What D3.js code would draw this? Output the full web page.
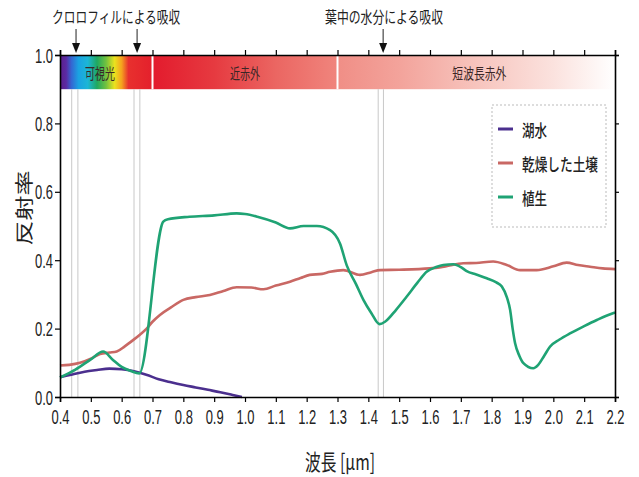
<!DOCTYPE html>
<html><head><meta charset="utf-8">
<script src="https://cdn.jsdelivr.net/npm/d3@7"></script>
<style>body{margin:0;background:#fff}</style>
</head><body>
<svg id="c" width="639" height="477"></svg>
<script>
// ---------- data ----------
const xTicks = [0.4,0.5,0.6,0.7,0.8,0.9,1.0,1.1,1.2,1.3,1.4,1.5,1.6,1.7,1.8,1.9,2.0,2.1,2.2];
const yTicks = [0.0,0.2,0.4,0.6,0.8,1.0];
const seriesNames = ["湖水","乾燥した土壌","植生"];
const seriesColors = ["#4b2f8e","#c96864","#1fa374"];

const waterWl  = [0.40,0.44,0.48,0.52,0.56,0.60,0.64,0.68,0.72,0.76,0.80,0.84,0.88,0.92,0.96,0.99];
const waterVal = [0.058,0.066,0.074,0.079,0.083,0.081,0.075,0.065,0.052,0.043,0.035,0.028,0.021,0.014,0.006,0.0];

const soilWl  = [0.40,0.43,0.465,0.50,0.53,0.56,0.584,0.61,0.638,0.66,0.681,0.70,0.724,0.76,0.80,0.84,0.886,0.93,0.973,1.02,1.06,1.10,1.146,1.18,1.21,1.25,1.276,1.319,1.373,1.41,1.438,1.50,1.60,1.65,1.708,1.75,1.805,1.849,1.892,1.946,2.00,2.043,2.08,2.119,2.16,2.20];
const soilVal = [0.092,0.094,0.100,0.112,0.126,0.130,0.133,0.148,0.167,0.183,0.200,0.220,0.240,0.262,0.284,0.292,0.298,0.310,0.321,0.320,0.315,0.326,0.337,0.348,0.357,0.360,0.366,0.371,0.357,0.365,0.371,0.372,0.376,0.382,0.391,0.392,0.396,0.386,0.371,0.371,0.382,0.393,0.386,0.381,0.376,0.374];

const vegWl  = [0.40,0.45,0.50,0.54,0.57,0.60,0.63,0.657,0.735,0.75,0.82,0.90,0.973,1.00,1.04,1.10,1.146,1.19,1.233,1.276,1.308,1.33,1.36,1.384,1.41,1.436,1.454,1.49,1.524,1.56,1.589,1.62,1.643,1.676,1.70,1.719,1.75,1.784,1.815,1.833,1.85,1.86,1.868,1.876,1.89,1.903,1.935,1.951,1.97,1.989,2.02,2.054,2.10,2.141,2.17,2.20];
const vegVal = [0.057,0.080,0.110,0.133,0.110,0.088,0.076,0.069,0.513,0.520,0.527,0.531,0.537,0.535,0.527,0.510,0.493,0.500,0.500,0.488,0.449,0.385,0.330,0.284,0.245,0.213,0.220,0.255,0.293,0.335,0.366,0.380,0.386,0.388,0.380,0.368,0.358,0.347,0.335,0.323,0.290,0.254,0.200,0.157,0.120,0.099,0.084,0.094,0.120,0.147,0.168,0.186,0.207,0.225,0.237,0.247];

const bandStart  = [0.4,0.7,1.3];
const bandEnd    = [0.7,1.3,2.2];
const bandLabels = ["可視光","近赤外","短波長赤外"];
const bandLabelAt = [0.53,1.0,1.76];
const bandBottom = 0.9;

const absorbLines = [0.438,0.458,0.640,0.659,1.432,1.449];
const arrowAt = [0.452,0.650,1.448];
const annotTexts = ["クロロフィルによる吸収","葉中の水分による吸収"];
const annotAt = [0.582,1.451];

// ---------- layout ----------
const svg = d3.select("#c");
const x = d3.scaleLinear().domain([0.4,2.2]).range([60,615]);
const y = d3.scaleLinear().domain([0,1]).range([397,55]);
const CJK = "'Noto Sans CJK JP','Noto Sans CJK SC',sans-serif";
const NUM = "'Liberation Sans Narrow','Liberation Sans',Arial,sans-serif";

// ---------- spectrum band ----------
const defs = svg.append("defs");
const gradStops = [
  [[0.40,"#5a1e8a"],[0.42,"#5b2aa2"],[0.437,"#3466d2"],[0.46,"#1aa2e2"],[0.49,"#1cb6d6"],[0.52,"#1fa860"],[0.55,"#74c23e"],[0.577,"#eae21e"],[0.60,"#f5a21e"],[0.622,"#e8302e"],[0.70,"#e4202c"]],
  [[0.70,"#e31b2d"],[0.90,"#e63a40"],[1.10,"#eb6662"],[1.30,"#f0857d"]],
  [[1.30,"#f08e86"],[1.50,"#f3a39b"],[1.75,"#f7c4bd"],[2.00,"#fbe2de"],[2.20,"#ffffff"]]
];
gradStops.forEach((stops,i)=>{
  const g = defs.append("linearGradient").attr("id","band"+i)
    .attr("gradientUnits","userSpaceOnUse")
    .attr("x1",x(bandStart[i])).attr("x2",x(bandEnd[i])).attr("y1",0).attr("y2",0);
  stops.forEach(s=>g.append("stop")
    .attr("offset",(s[0]-bandStart[i])/(bandEnd[i]-bandStart[i]))
    .attr("stop-color",s[1]));
  svg.append("rect").attr("x",x(bandStart[i])).attr("y",y(1))
    .attr("width",x(bandEnd[i])-x(bandStart[i])).attr("height",y(bandBottom)-y(1))
    .attr("fill","url(#band"+i+")");
});
[0.7,1.3].forEach(w=>svg.append("line").attr("x1",x(w)).attr("x2",x(w))
  .attr("y1",y(1)).attr("y2",y(bandBottom)).attr("stroke","#fff").attr("stroke-width",2));
const bandTextLen = [30,30,54];
bandLabels.forEach((t,i)=>svg.append("text").attr("x",x(bandLabelAt[i])).attr("y",y(0.95))
  .attr("text-anchor","middle").attr("dominant-baseline","central")
  .attr("font-family",CJK).attr("font-size",15).attr("fill","#3a2626")
  .attr("textLength",bandTextLen[i]).attr("lengthAdjust","spacingAndGlyphs").text(t));

// absorption guide lines
absorbLines.forEach(w=>svg.append("line").attr("x1",x(w)).attr("x2",x(w))
  .attr("y1",y(bandBottom)).attr("y2",y(0)).attr("stroke","#c8c8c8").attr("stroke-width",1));

// ---------- series ----------
const line = d3.line().x(d=>x(d[0])).y(d=>y(d[1])).curve(d3.curveMonotoneX);
const series = [
  d3.zip(waterWl,waterVal),
  d3.zip(soilWl,soilVal),
  d3.zip(vegWl,vegVal)
];
[1,0,2].forEach(i=>svg.append("path").datum(series[i]).attr("d",line)
  .attr("fill","none").attr("stroke",seriesColors[i]).attr("stroke-width",2.6)
  .attr("stroke-linejoin","round"));

// ---------- axes ----------
const tickFmt = d3.format(".1f");
const gx = svg.append("g").attr("transform","translate(0,397)")
  .call(d3.axisBottom(x).tickValues(xTicks).tickFormat(tickFmt).tickSize(5).tickPadding(8));
const gy = svg.append("g").attr("transform","translate(60,0)")
  .call(d3.axisLeft(y).tickValues(yTicks).tickFormat(tickFmt).tickSize(5).tickPadding(2));
const gt = svg.append("g").attr("transform","translate(0,55)")
  .call(d3.axisTop(x).tickValues(xTicks).tickFormat("").tickSize(5));
const gr = svg.append("g").attr("transform","translate(615,0)")
  .call(d3.axisRight(y).tickValues(yTicks).tickFormat("").tickSize(4));
[gx,gy,gt,gr].forEach(g=>{
  g.select(".domain").attr("stroke","#000").attr("stroke-width",1.6);
  g.selectAll(".tick line").attr("stroke","#000").attr("stroke-width",1.2);
  g.selectAll("text").attr("font-family",NUM).attr("font-size",20).attr("fill","#222")
    .attr("textLength",18).attr("lengthAdjust","spacingAndGlyphs");
});
gy.selectAll("text").attr("dy","0.35em");

// axis titles
svg.append("text").attr("x",340).attr("y",470).attr("text-anchor","middle")
  .attr("font-family",CJK).attr("font-size",22).attr("fill","#222")
  .attr("textLength",70).attr("lengthAdjust","spacingAndGlyphs").text("波長 [μm]");
svg.append("text").attr("transform","translate(23,208) scale(0.72,1) rotate(-90)")
  .attr("text-anchor","middle").attr("dominant-baseline","central")
  .attr("font-family",CJK).attr("font-size",25).attr("fill","#222").text("反射率");

// ---------- annotations ----------
const annLen = [128,118];
annotTexts.forEach((t,i)=>svg.append("text").attr("x",x(annotAt[i])).attr("y",23)
  .attr("text-anchor","middle").attr("font-family",CJK).attr("font-size",16).attr("fill","#222")
  .attr("textLength",annLen[i]).attr("lengthAdjust","spacingAndGlyphs").text(t));
arrowAt.forEach(w=>{
  const cx = x(w);
  svg.append("line").attr("x1",cx).attr("x2",cx).attr("y1",29).attr("y2",44)
    .attr("stroke","#222").attr("stroke-width",1);
  svg.append("path").attr("d",`M${cx-4},43 L${cx+4},43 L${cx},53 Z`).attr("fill","#111");
});

// ---------- legend ----------
const lg = svg.append("g");
lg.append("rect").attr("x",492).attr("y",105).attr("width",114).attr("height",122)
  .attr("fill","#fff").attr("stroke","#bbb").attr("stroke-width",1).attr("stroke-dasharray","2,2");
const legLen = [25,76,25];
seriesNames.forEach((n,i)=>{
  const yy = 129 + i*34;
  lg.append("line").attr("x1",498).attr("x2",513).attr("y1",yy).attr("y2",yy)
    .attr("stroke",seriesColors[i]).attr("stroke-width",3);
  lg.append("text").attr("x",522).attr("y",yy).attr("dominant-baseline","central")
    .attr("font-family",CJK).attr("font-size",17).attr("font-weight",500).attr("fill","#222")
    .attr("textLength",legLen[i]).attr("lengthAdjust","spacingAndGlyphs").text(n);
});
</script>
</body></html>
